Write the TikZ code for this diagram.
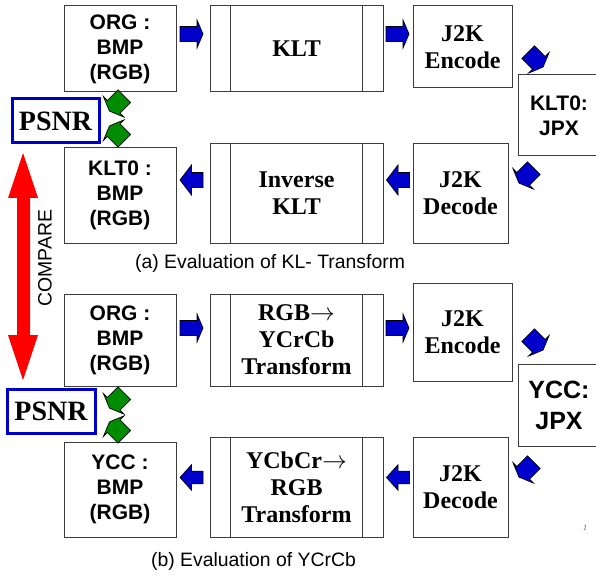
\documentclass[tikz,border=0pt]{standalone}
\usepackage{fontspec}
\setmainfont{Liberation Serif}
\setsansfont{Liberation Sans}
\definecolor{arrblue}{RGB}{0,0,204}
\definecolor{psnrblue}{RGB}{0,0,205}
\definecolor{arrgreen}{RGB}{0,140,0}
\definecolor{boxline}{RGB}{60,60,60}
\definecolor{numblue}{RGB}{60,80,220}
\tikzset{
  box/.style={draw=boxline, line width=1pt, inner sep=0pt, align=center},
  sanslab/.style={font=\sffamily\bfseries\fontsize{21}{25}\selectfont},
  seriflab/.style={font=\rmfamily\bfseries\fontsize{24}{27}\selectfont},
  psnrbox/.style={draw=psnrblue, line width=3pt, inner sep=0pt, minimum height=44pt,
     font=\rmfamily\bfseries\fontsize{28}{30}\selectfont},
  captxt/.style={font=\sffamily\fontsize{19.4}{22}\selectfont, inner sep=0pt},
  sarrow/.pic={\draw[fill=#1, draw=black, line width=0.7pt, line join=miter]
     (-11.5,-7.5) -- (5.5,-7.5) -- (5.5,-14) -- (11.5,0) -- (5.5,14) -- (5.5,7.5) -- (-11.5,7.5) -- cycle;},
  darrow/.pic={\draw[fill=#1, draw=black, line width=0.7pt, line join=miter]
     (-11,-9) -- (4,-9) -- (4,-14.5) -- (10,0) -- (4,14.5) -- (4,9) -- (-11,9) -- cycle;},
  larrow/.pic={\draw[fill=#1, draw=black, line width=0.7pt, line join=miter]
     (-11.5,-7.5) -- (0,-7.5) -- (0,-15) -- (11.5,0) -- (0,15) -- (0,7.5) -- (-11.5,7.5) -- cycle;}
}
\begin{document}
\begin{tikzpicture}[x=1pt,y=-1pt]
\useasboundingbox (0,0) rectangle (596,577);
% ---------- (a) ----------
\node[box, sanslab, minimum width=112pt, minimum height=86pt] (orgA) at (120,49) {ORG :\\BMP\\(RGB)};
\node[box, seriflab, minimum width=173pt, minimum height=86pt] (kltA) at (296.5,49) {KLT};
\node[box, seriflab, minimum width=99pt, minimum height=82pt] (encA) at (462.5,47) {J2K\\Encode};
\node[box, sanslab, minimum width=82pt, minimum height=81pt] (jpxA) at (559,115.5) {KLT0:\\JPX};
\node[box, seriflab, minimum width=95pt, minimum height=99pt] (decA) at (460.5,193.5) {J2K\\Decode};
\node[box, seriflab, minimum width=173pt, minimum height=99pt] (ikltA) at (296.5,193.5) {Inverse\\KLT};
\node[box, sanslab, minimum width=112pt, minimum height=95pt] (bmpA) at (120,195.5) {KLT0 :\\BMP\\(RGB)};
\node[psnrbox, minimum width=87pt] (psnrA) at (55.5,121) {PSNR};
\foreach \n in {kltA,ikltA}{
  \draw[boxline, line width=1pt] ([xshift=21pt]\n.north west) -- ([xshift=21pt]\n.south west);
  \draw[boxline, line width=1pt] ([xshift=-21pt]\n.north east) -- ([xshift=-21pt]\n.south east);
}
\pic at (191.5,34) {sarrow=arrblue};
\pic at (397.5,34) {sarrow=arrblue};
\pic[rotate=-45] at (536,60) {darrow=arrblue};
\pic[rotate=-135] at (526,176) {darrow=arrblue};
\pic[rotate=180] at (398,180) {larrow=arrblue};
\pic[rotate=180] at (191.5,180) {larrow=arrblue};
\pic[rotate=-135] at (116.5,104) {darrow=arrgreen};
\pic[rotate=135] at (116.5,133) {darrow=arrgreen};
\node[captxt] (capA) at (270,263) {(a) Evaluation of KL- Transform};
% ---------- compare ----------
\fill[red] (23,153) -- (38,198) -- (30,198) -- (30,335) -- (38,335) -- (23,380) -- (8,335) -- (17,335) -- (17,198) -- (8,198) -- cycle;
\node[captxt, rotate=90] (cmp) at (45,258) {COMPARE};
% ---------- (b) ----------
\node[box, sanslab, minimum width=112pt, minimum height=92pt] (orgB) at (120,340) {ORG :\\BMP\\(RGB)};
\node[box, seriflab, minimum width=173pt, minimum height=92pt] (rgbB) at (296.5,340) {RGB$\rightarrow$\\YCrCb\\Transform};
\node[box, seriflab, minimum width=99pt, minimum height=98pt] (encB) at (462.5,332) {J2K\\Encode};
\node[box, font=\sffamily\bfseries\fontsize{25}{31}\selectfont, minimum width=82pt, minimum height=82pt] (jpxB) at (559,405) {YCC:\\JPX};
\node[box, seriflab, minimum width=95pt, minimum height=100pt] (decB) at (460.5,487) {J2K\\Decode};
\node[box, seriflab, minimum width=173pt, minimum height=100pt] (ycbB) at (296.5,487) {YCbCr$\rightarrow$\\RGB\\Transform};
\node[box, sanslab, minimum width=112pt, minimum height=95pt] (bmpB) at (120,489.5) {YCC :\\BMP\\(RGB)};
\node[psnrbox, minimum width=88pt] (psnrB) at (51,411) {PSNR};
\foreach \n in {rgbB,ycbB}{
  \draw[boxline, line width=1pt] ([xshift=21pt]\n.north west) -- ([xshift=21pt]\n.south west);
  \draw[boxline, line width=1pt] ([xshift=-21pt]\n.north east) -- ([xshift=-21pt]\n.south east);
}
\pic at (191.5,328) {sarrow=arrblue};
\pic at (397.5,328) {sarrow=arrblue};
\pic[rotate=-45] at (536,343) {darrow=arrblue};
\pic[rotate=-135] at (526,470) {darrow=arrblue};
\pic[rotate=180, yscale=0.85] at (398,477.5) {larrow=arrblue};
\pic[rotate=180, yscale=0.85] at (191.5,477.5) {larrow=arrblue};
\pic[rotate=-135] at (116.5,401) {darrow=arrgreen};
\pic[rotate=135] at (116.5,429) {darrow=arrgreen};
\node[captxt] (capB) at (253.5,561) {(b) Evaluation of YCrCb};
\node[font=\rmfamily\itshape\fontsize{8}{9}\selectfont, text=numblue, inner sep=0pt] (pgnum) at (585,528) {1};
\end{tikzpicture}
\end{document}
